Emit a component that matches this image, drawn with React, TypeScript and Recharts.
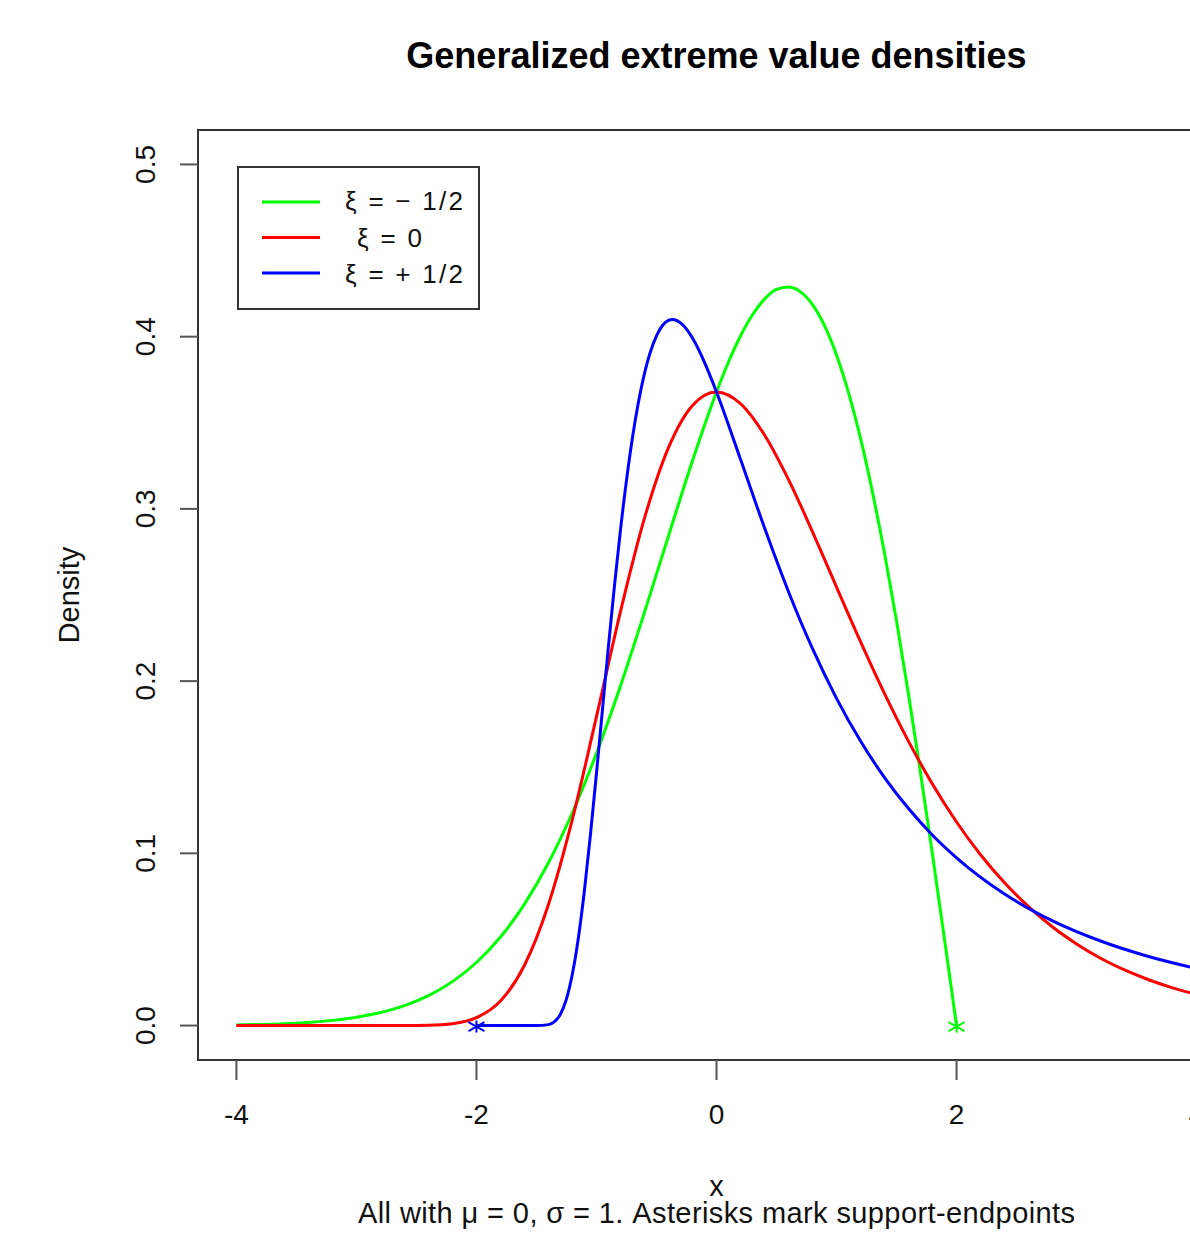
import {
  LineChart,
  Line,
  XAxis,
  YAxis,
  Legend,
  ReferenceArea,
  ReferenceDot,
} from "recharts";

// xi = -1/2 (bounded above at x = 2)
const gridNeg = [
  -4, -3.8, -3.6, -3.4, -3.2, -3, -2.8, -2.6, -2.4, -2.2, -2, -1.8, -1.6, -1.4,
  -1.2, -1, -0.8, -0.6, -0.4, -0.2, 0, 0.1, 0.2, 0.3, 0.4, 0.5, 0.6, 0.7, 0.8,
  0.9, 1, 1.1, 1.2, 1.3, 1.4, 1.5, 1.6, 1.7, 1.8, 1.9, 2,
];
const densNeg = [
  0.00037, 0.00064, 0.0011, 0.00184, 0.00301, 0.00483, 0.00756, 0.01159,
  0.0174, 0.0255, 0.0366, 0.0514, 0.0705, 0.0945, 0.1237, 0.1581, 0.1972,
  0.2399, 0.2843, 0.328, 0.3679, 0.3853, 0.4004, 0.4127, 0.4218, 0.4274,
  0.4288, 0.426, 0.4186, 0.4064, 0.3894, 0.3675, 0.3409, 0.3096, 0.2742,
  0.2349, 0.1922, 0.1467, 0.099, 0.0499, 0,
];

// xi = 0 (Gumbel)
const gridZero = [
  -4, -3.8, -3.6, -3.4, -3.2, -3, -2.8, -2.6, -2.4, -2.2, -2, -1.8, -1.6, -1.4,
  -1.2, -1, -0.8, -0.6, -0.4, -0.2, 0, 0.2, 0.4, 0.6, 0.8, 1, 1.2, 1.4, 1.6,
  1.8, 2, 2.2, 2.4, 2.6, 2.8, 3, 3.2, 3.4, 3.6, 3.8, 4,
];
const densZero = [
  0, 0, 0, 0, 0, 0, 0.000001, 0.00002, 0.00018, 0.00109, 0.00457, 0.01426,
  0.035, 0.0703, 0.12, 0.1794, 0.2404, 0.2946, 0.3356, 0.3601, 0.3679, 0.3611,
  0.3429, 0.317, 0.2867, 0.2546, 0.2229, 0.1927, 0.165, 0.1401, 0.1182,
  0.0992, 0.0829, 0.069, 0.0572, 0.0474, 0.0391, 0.0323, 0.0266, 0.0219,
  0.018,
];

// xi = +1/2 (bounded below at x = -2)
const gridPos = [
  -2, -1.8, -1.6, -1.5, -1.4, -1.35, -1.3, -1.25, -1.2, -1.15, -1.1, -1.05, -1,
  -0.95, -0.9, -0.85, -0.8, -0.7, -0.6, -0.5, -0.45, -0.4, -0.367, -0.35, -0.3,
  -0.25, -0.2, -0.1, 0, 0.2, 0.4, 0.6, 0.8, 1, 1.2, 1.4, 1.6, 1.8, 2, 2.4,
  2.8, 3.2, 3.6, 4,
];
const densPos = [
  0, 0, 0, 0.00001, 0.00055, 0.00225, 0.00665, 0.0155, 0.0302, 0.0513, 0.0787,
  0.111, 0.1465, 0.1836, 0.2204, 0.2554, 0.2878, 0.3415, 0.3787, 0.4005,
  0.4065, 0.4094, 0.4099, 0.4098, 0.408, 0.4044, 0.3992, 0.3851, 0.3679,
  0.3288, 0.289, 0.2519, 0.2188, 0.19, 0.1652, 0.144, 0.126, 0.1105, 0.0974,
  0.0764, 0.0608, 0.0491, 0.0401, 0.0331,
];

const seriesNames = ["ξ = − 1/2", "ξ = 0", "ξ = + 1/2"];
const seriesColors = ["#00ff00", "#ff0000", "#0000ff"];

const endpointX = [-2, 2];
const endpointY = [0, 0];
const endpointColors = ["#0000ff", "#00ff00"];

const xTicks = [-4, -2, 0, 2, 4];
const yTicks = [0, 0.1, 0.2, 0.3, 0.4, 0.5];

const zip = (xs: number[], ys: number[]) => xs.map((x, i) => ({ x, y: ys[i] }));

const series = [
  { name: seriesNames[0], color: seriesColors[0], data: zip(gridNeg, densNeg) },
  { name: seriesNames[1], color: seriesColors[1], data: zip(gridZero, densZero) },
  { name: seriesNames[2], color: seriesColors[2], data: zip(gridPos, densPos) },
];

const FONT = '"Liberation Sans", Arial, Helvetica, sans-serif';

const XTick = ({ x, y, payload }: any) => (
  <text x={x} y={y + 42} textAnchor="middle" fontSize={28} fontFamily={FONT} fill="#111">
    {String(payload.value)}
  </text>
);

const YTick = ({ x, y, payload }: any) => (
  <text
    x={x - 23}
    y={y}
    transform={`rotate(-90, ${x - 23}, ${y})`}
    textAnchor="middle"
    fontSize={28}
    fontFamily={FONT}
    fill="#111"
  >
    {Number(payload.value).toFixed(1)}
  </text>
);

const Asterisk = (color: string) => (props: any) => {
  const { cx, cy } = props;
  const c = cy + 1;
  return (
    <g stroke={color} strokeWidth={2}>
      <line x1={cx} y1={c - 6} x2={cx} y2={c + 6} />
      <line x1={cx - 8} y1={c - 4.5} x2={cx + 8} y2={c + 4.5} />
      <line x1={cx - 8} y1={c + 4.5} x2={cx + 8} y2={c - 4.5} />
    </g>
  );
};

const LegendBox = ({ payload }: any) => {
  const textX = [108, 120, 108];
  const textW = [118, 65, 118];
  const items = [...(payload || [])].sort(
    (a: any, b: any) => seriesNames.indexOf(a.value) - seriesNames.indexOf(b.value)
  );
  return (
    <svg width={243} height={144} style={{ display: "block" }}>
      <rect x={1} y={1} width={241} height={142} fill="#fff" stroke="#333" strokeWidth={2} />
      {items.map((p: any, i: number) => (
        <g key={i}>
          <line x1={25} x2={83} y1={36 + i * 35.5} y2={36 + i * 35.5} stroke={p.color} strokeWidth={3} />
          <text
            x={textX[i]}
            y={44 + i * 36.5}
            fontSize={26}
            fontFamily={FONT}
            fill="#111"
            textLength={textW[i]}
            lengthAdjust="spacing"
          >
            {p.value}
          </text>
        </g>
      ))}
    </svg>
  );
};

export default function App() {
  return (
    <div
      style={{
        position: "fixed",
        left: 0,
        top: 0,
        width: 1190,
        height: 1233,
        overflow: "hidden",
        background: "#fff",
      }}
    >
      <LineChart width={1300} height={1233} margin={{ top: 130, right: 65, bottom: 113, left: 0 }}>
        <XAxis
          type="number"
          dataKey="x"
          domain={[-4.32, 4.32]}
          ticks={xTicks}
          height={60}
          axisLine={false}
          tickSize={20}
          tickLine={{ stroke: "#555", strokeWidth: 2 }}
          tick={<XTick />}
          interval={0}
        />
        <YAxis
          type="number"
          dataKey="y"
          domain={[-0.02, 0.52]}
          ticks={yTicks}
          width={198}
          axisLine={false}
          tickSize={18}
          tickLine={{ stroke: "#555", strokeWidth: 2 }}
          tick={<YTick />}
          interval={0}
        />
        <ReferenceArea
          x1={-4.32}
          x2={4.32}
          y1={-0.02}
          y2={0.52}
          fill="none"
          fillOpacity={0}
          stroke="#333"
          strokeWidth={2}
          ifOverflow="visible"
        />
        {series.map((s) => (
          <Line
            key={s.name}
            data={s.data}
            dataKey="y"
            name={s.name}
            type="monotone"
            stroke={s.color}
            strokeWidth={3}
            dot={false}
            activeDot={false}
            isAnimationActive={false}
          />
        ))}
        {endpointX.map((ex, i) => (
          <ReferenceDot
            key={ex}
            x={ex}
            y={endpointY[i]}
            r={6}
            shape={Asterisk(endpointColors[i])}
            ifOverflow="visible"
          />
        ))}
        <Legend
          layout="vertical"
          align="center"
          verticalAlign="middle"
          content={<LegendBox />}
          wrapperStyle={{ left: 237, top: 166, width: 243, height: 144 }}
        />
      </LineChart>
      <svg
        width={1190}
        height={1233}
        style={{ position: "absolute", left: 0, top: 0, pointerEvents: "none" }}
      >
        <text x={716.5} y={68} textAnchor="middle" fontSize={36} fontWeight="bold" fontFamily={FONT} fill="#000">
          Generalized extreme value densities
        </text>
        <text x={716.5} y={1196} textAnchor="middle" fontSize={29} fontFamily={FONT} fill="#111">
          x
        </text>
        <text
          x={716.5}
          y={1223}
          textAnchor="middle"
          fontSize={29}
          fontFamily={FONT}
          fill="#111"
          textLength={717}
          lengthAdjust="spacing"
        >
          All with μ = 0, σ = 1. Asterisks mark support-endpoints
        </text>
        <text
          x={79}
          y={595}
          transform="rotate(-90, 79, 595)"
          textAnchor="middle"
          fontSize={29}
          fontFamily={FONT}
          fill="#111"
        >
          Density
        </text>
      </svg>
    </div>
  );
}
